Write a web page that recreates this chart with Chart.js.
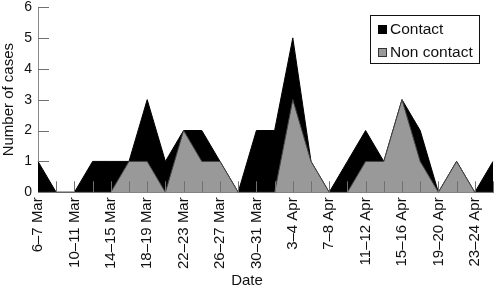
<!DOCTYPE html>
<html><head><meta charset="utf-8">
<script src="https://cdn.jsdelivr.net/npm/chart.js@4/dist/chart.umd.min.js"></script>
<style>html,body{margin:0;padding:0;background:#fff}#wrap{width:494px;height:290px}</style>
</head><body><div id="wrap"><canvas id="c" width="494" height="290"></canvas></div>
<script>
const categories = ["6–7 Mar","8–9 Mar","10–11 Mar","12–13 Mar","14–15 Mar","16–17 Mar","18–19 Mar","20–21 Mar","22–23 Mar","24–25 Mar","26–27 Mar","28–29 Mar","30–31 Mar","1–2 Apr","3–4 Apr","5–6 Apr","7–8 Apr","9–10 Apr","11–12 Apr","13–14 Apr","15–16 Apr","17–18 Apr","19–20 Apr","21–22 Apr","23–24 Apr","25–26 Apr"];
const contact    = [1,0,0,1,1,0,2,1,0,1,0,0,2,2,2,0,0,1,1,0,0,1,0,0,0,1];
const nonContact = [0,0,0,0,0,1,1,0,2,1,1,0,0,0,3,1,0,0,1,1,3,1,0,1,0,0];
const yTicks = [0,1,2,3,4,5,6];
const seriesNames = ["Contact","Non contact"];

const FONT = "'Liberation Sans', Arial, sans-serif";

const tickMarks = {
  id: 'tickMarks',
  afterDatasetsDraw(chart) {
    const {ctx, scales: {x, y}, chartArea: a} = chart;
    ctx.save();
    ctx.strokeStyle = '#707070';
    ctx.lineWidth = 1;
    ctx.beginPath();
    categories.forEach((c, i) => {
      if (i === 0) return;
      const px = Math.round(x.getPixelForValue(i)) + 0.5;
      ctx.moveTo(px, a.bottom);
      ctx.lineTo(px, a.bottom - 11);
    });
    yTicks.forEach(v => {
      if (v === 0) return;
      const py = Math.round(y.getPixelForValue(v)) + 0.5;
      ctx.moveTo(a.left, py);
      ctx.lineTo(a.left + 11, py);
    });
    ctx.stroke();
    ctx.restore();
  }
};

const boxLegend = {
  id: 'boxLegend',
  afterDraw(chart) {
    const {ctx, chartArea: a} = chart;
    const w = 109, h = 48;
    const left = a.right - 14 - w, top = a.top + 8;
    ctx.save();
    ctx.fillStyle = '#fff';
    ctx.fillRect(left, top, w, h);
    ctx.strokeStyle = '#111';
    ctx.lineWidth = 1;
    ctx.strokeRect(Math.round(left) + 0.5, Math.round(top) + 0.5, w, h);
    const items = [
      {label: seriesNames[0], fill: '#000', stroke: '#000'},
      {label: seriesNames[1], fill: '#999', stroke: '#333'}
    ];
    ctx.font = "15.5px " + FONT;
    ctx.textBaseline = 'alphabetic';
    items.forEach((it, i) => {
      const by = top + 10 + i * 23;
      ctx.fillStyle = it.fill;
      ctx.fillRect(left + 8, by, 9, 9);
      ctx.strokeStyle = it.stroke;
      ctx.strokeRect(left + 8.5, by + 0.5, 8, 8);
      ctx.fillStyle = '#111';
      ctx.fillText(it.label, left + 20, by + 9);
    });
    ctx.restore();
  }
};

new Chart(document.getElementById('c'), {
  type: 'line',
  data: {
    labels: categories,
    datasets: [
      {
        label: seriesNames[1],
        data: nonContact,
        backgroundColor: '#999999',
        borderColor: '#444',
        borderWidth: 1,
        fill: 'origin',
        tension: 0,
        pointRadius: 0
      },
      {
        label: seriesNames[0],
        data: contact,
        backgroundColor: '#000000',
        borderColor: '#000000',
        borderWidth: 1,
        fill: 'origin',
        tension: 0,
        pointRadius: 0
      }
    ]
  },
  options: {
    responsive: false,
    animation: false,
    devicePixelRatio: 1,
    layout: {padding: 0},
    plugins: {
      legend: {display: false},
      tooltip: {enabled: false},
      title: {
        display: true,
        position: 'bottom',
        text: 'Date',
        color: '#111',
        font: {family: FONT, size: 15, weight: 'normal'},
        padding: {top: -2, bottom: 0}
      }
    },
    scales: {
      x: {
        type: 'category',
        offset: false,
        z: 1,
        grid: {display: false, drawTicks: false},
        border: {display: true, color: '#888', width: 1},
        afterFit: s => { s.paddingRight = 1; s.paddingLeft = 0; },
        ticks: {
          autoSkip: false,
          maxRotation: 90,
          minRotation: 90,
          padding: 5,
          color: '#111',
          font: {family: FONT, size: 15},
          callback: (v, i) => (i % 2 === 0 ? categories[i] : '')
        }
      },
      y: {
        stacked: true,
        min: 0,
        max: 6,
        z: 1,
        grid: {display: false, drawTicks: false},
        border: {display: true, color: '#888', width: 1},
        afterFit: s => { s.paddingTop = 7; s.paddingBottom = 0; s.width = 38; },
        afterBuildTicks: s => { s.ticks = yTicks.map(v => ({value: v})); },
        ticks: {
          padding: 6,
          color: '#111',
          font: {family: FONT, size: 14}
        },
        title: {
          display: true,
          text: 'Number of cases',
          color: '#111',
          font: {family: FONT, size: 15},
          padding: {top: 0, bottom: 6}
        }
      }
    }
  },
  plugins: [tickMarks, boxLegend]
});
</script>
</body></html>
